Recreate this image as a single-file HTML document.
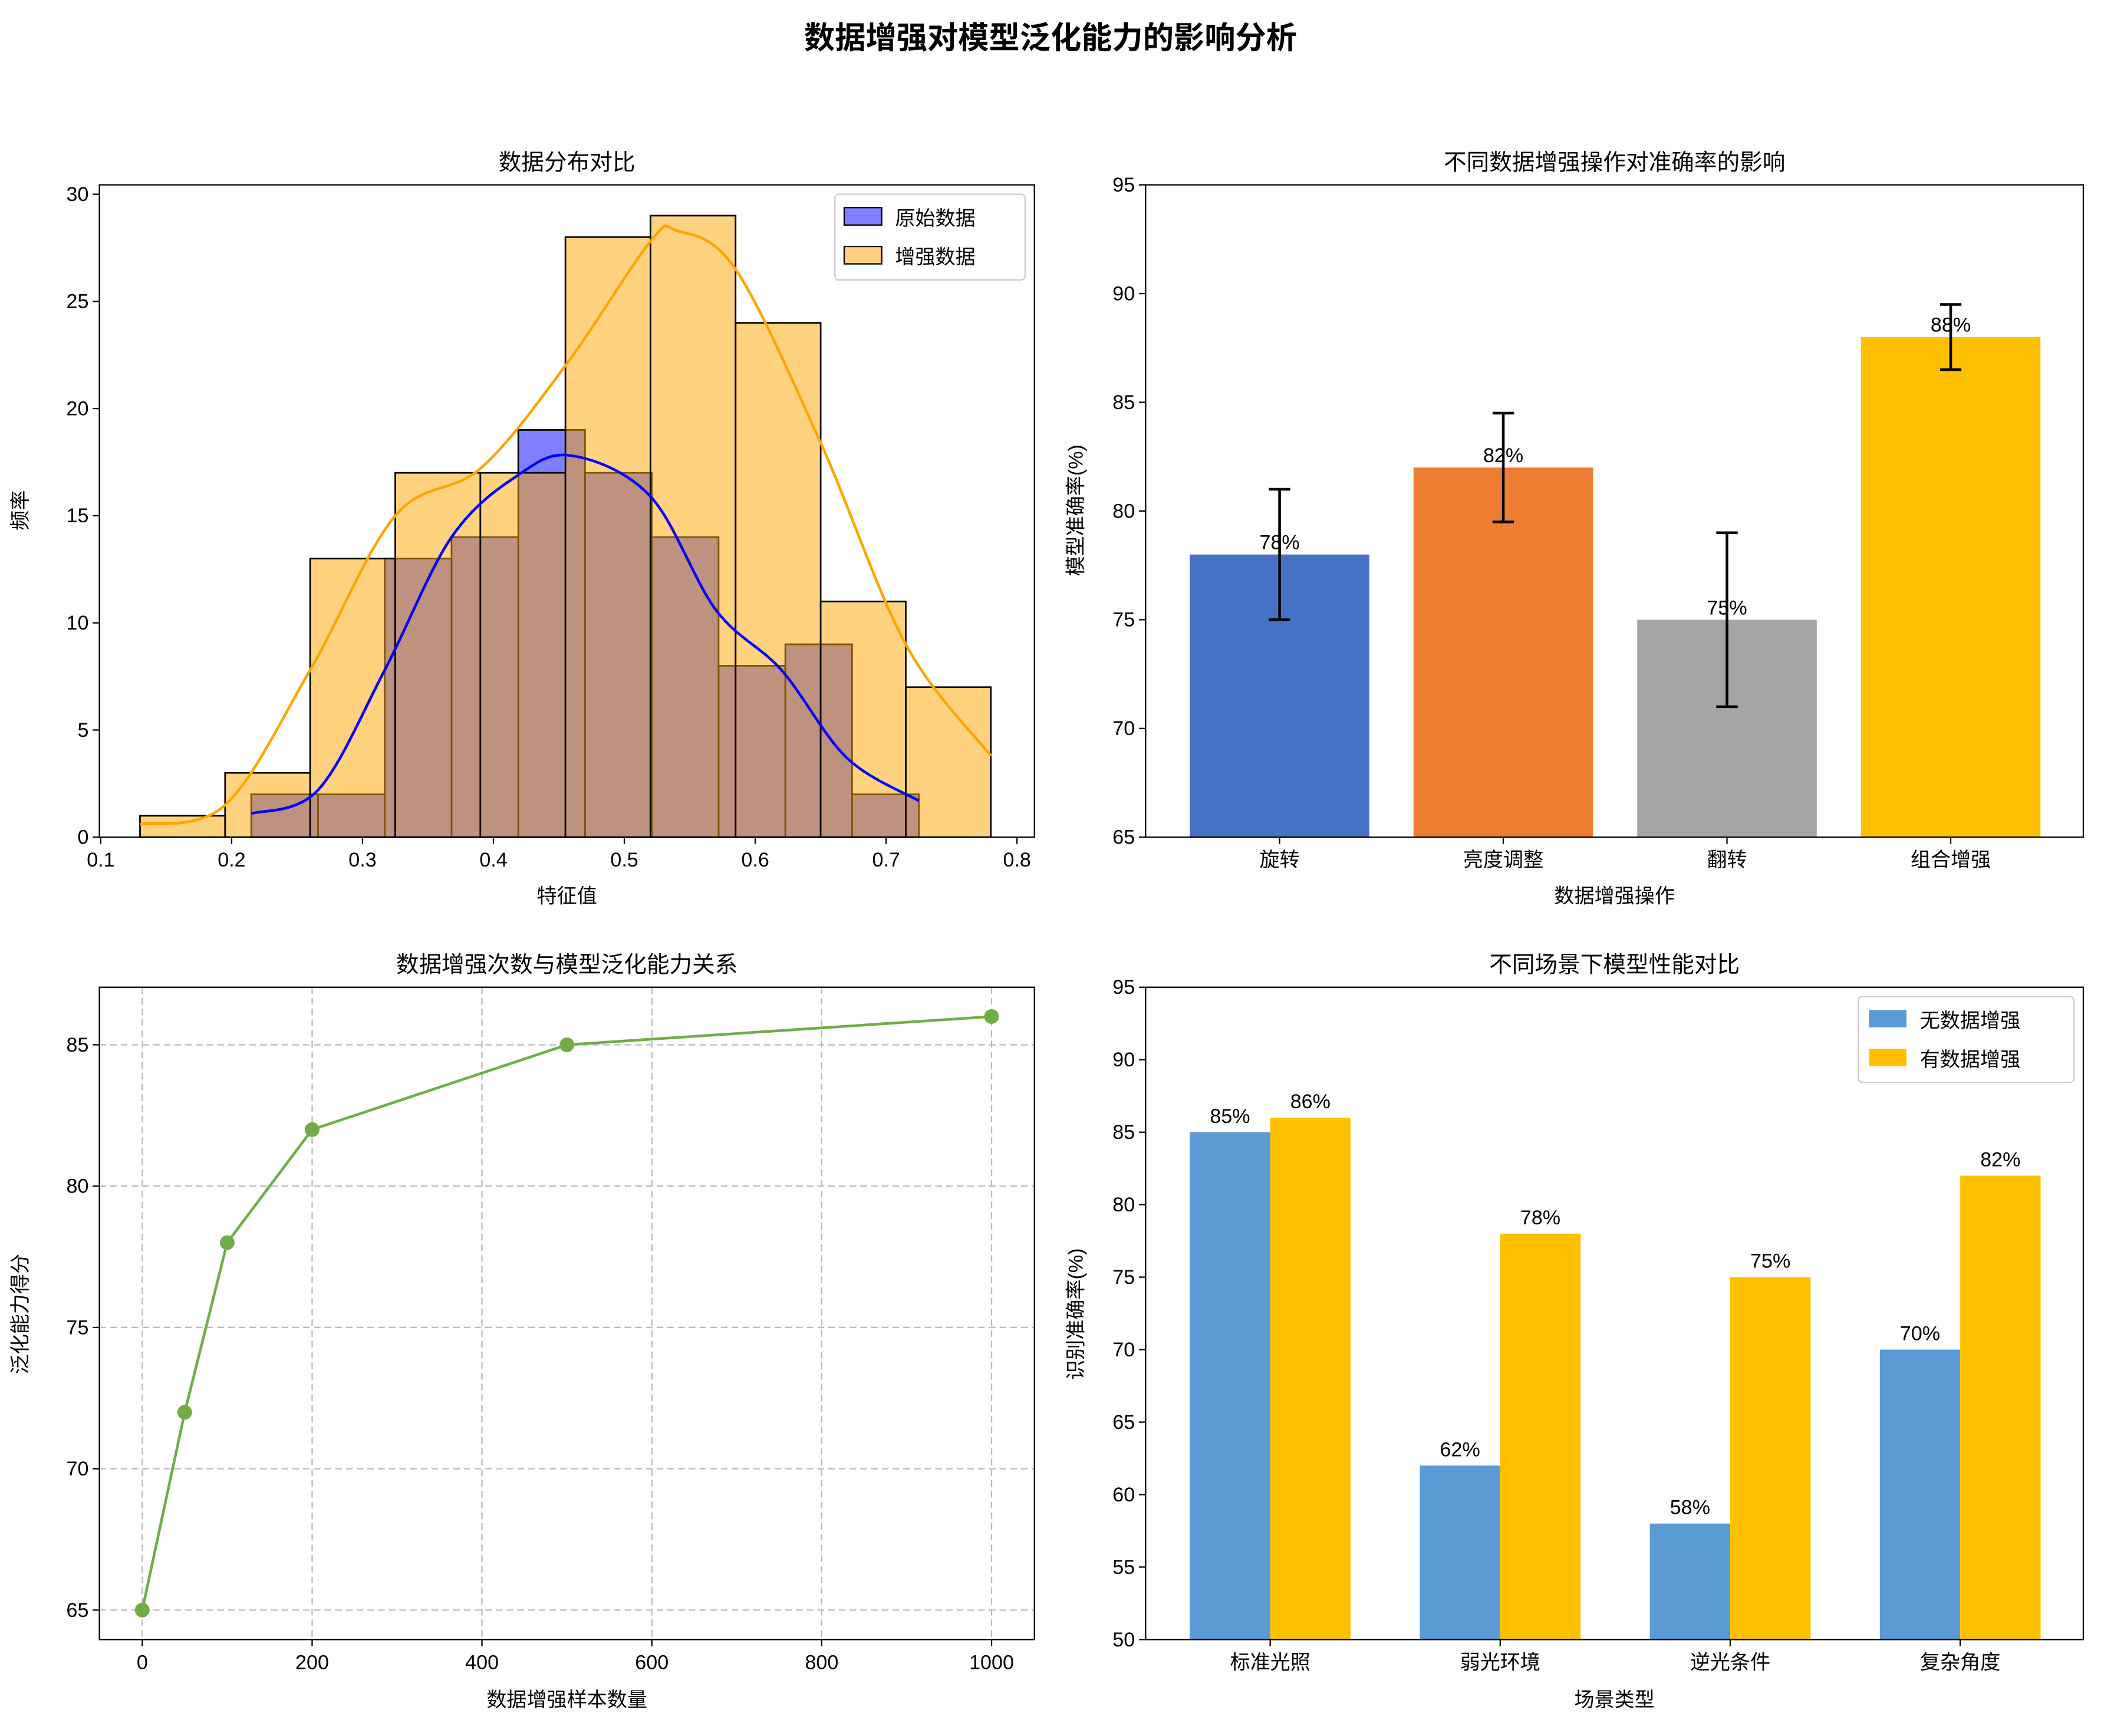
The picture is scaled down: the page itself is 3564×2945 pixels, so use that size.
<!DOCTYPE html>
<html><head><meta charset="utf-8">
<style>
html,body{margin:0;padding:0;background:#fff;}
svg{display:block;font-family:"Liberation Sans","Noto Sans CJK SC",sans-serif;}
</style></head>
<body>
<svg id="c" width="3564" height="2945" viewBox="0 0 1568 1296" xmlns="http://www.w3.org/2000/svg">
<text x="784" y="36" text-anchor="middle" font-size="23" font-weight="bold">数据增强对模型泛化能力的影响分析</text>
</svg>
<script>
// ---- data ----
const origEdgesStart = 0.215, origBinW = 0.051;
const origCounts = [2,2,13,14,19,17,14,8,9,2];
const augEdgesStart = 0.13, augBinW = 0.065;
const augCounts = [1,3,13,17,17,28,29,24,11,7];
const augKdeX = [0.13,0.195,0.26,0.325,0.39,0.455,0.52,0.54,0.585,0.65,0.715,0.78];
const augKdeY = [0.6,1.5,7.8,15,17.2,22,27.8,28.3,26.5,18.4,9,3.8];
const origKdeX = [0.215,0.266,0.317,0.368,0.419,0.46,0.52,0.57,0.62,0.67,0.725];
const origKdeY = [1.1,2.2,7.8,14,16.9,17.8,15.9,10.6,7.8,3.7,1.7];
const opNames = ["旋转","亮度调整","翻转","组合增强"];
const opAcc = [78,82,75,88];
const opErr = [3,2.5,4,1.5];
const opColors = ["#4472c4","#ed7d31","#a5a5a5","#ffc000"];
const sampleX = [0,50,100,200,500,1000];
const scoreY = [65,72,78,82,85,86];
const scenes = ["标准光照","弱光环境","逆光条件","复杂角度"];
const noAug = [85,62,58,70];
const withAug = [86,78,75,82];

const svg = document.getElementById('c');
const NS = "http://www.w3.org/2000/svg";
function el(tag, attrs, parent){const e=document.createElementNS(NS,tag);for(const k in attrs)e.setAttribute(k,attrs[k]);(parent||svg).appendChild(e);return e;}
function txt(x,y,s,size,anchor,parent,extra){const t=el('text',Object.assign({x:x,y:y,'font-size':size,'text-anchor':anchor||'middle'},extra||{}),parent);t.textContent=s;return t;}
function lin(d0,d1,p0,p1){return v=>p0+(v-d0)/(d1-d0)*(p1-p0);}

function axesFrame(x0,y0,x1,y1,name){
  const r=el('rect',{x:x0,y:y0,width:x1-x0,height:y1-y0,fill:'none',stroke:'#000','stroke-width':1});
  
  
}
function xTicks(vals,labels,sx,y1,name){
  const g=el('g',{});
  
  
  vals.forEach((v,i)=>{const x=sx(v);el('line',{x1:x,y1:y1,x2:x,y2:y1+5,stroke:'#000'},g);txt(x,y1+22,labels[i],15,'middle',g);});
}
function yTicks(vals,sy,x0,name){
  const g=el('g',{});
  
  
  vals.forEach(v=>{const y=sy(v);el('line',{x1:x0-5,y1:y,x2:x0,y2:y,stroke:'#000'},g);txt(x0-8,y+5,String(v),15,'end',g);});
}
function label(x,y,s,size,name,rot){
  const t=txt(x,y,s,size,'middle',null,rot?{transform:`rotate(-90 ${x} ${y})`}:{});
  
  
}

// ===== Panel 1: histogram =====
{
  const X0=74,X1=772,Y0=138,Y1=625;
  const sx=lin(0.1,0.8,75,759), sy=lin(0,30,625,145);
  const g=el('g',{});
  
  
  origCounts.forEach((c,i)=>{const a=origEdgesStart+i*origBinW;const r=el('rect',{x:sx(a),y:sy(c),width:sx(a+origBinW)-sx(a),height:sy(0)-sy(c),fill:'rgba(0,0,255,0.5)',stroke:'#000','stroke-width':1.2},g);
    
    });
  augCounts.forEach((c,i)=>{const a=augEdgesStart+i*augBinW;const r=el('rect',{x:sx(a),y:sy(c),width:sx(a+augBinW)-sx(a),height:sy(0)-sy(c),fill:'rgba(255,165,0,0.5)',stroke:'#000','stroke-width':1.2},g);
    
    });
  function curve(xs,ys,col,name){
    const pts=xs.map((x,i)=>[sx(x),sy(ys[i])]);
    let d=`M${pts[0][0]},${pts[0][1]}`;
    for(let i=0;i<pts.length-1;i++){const p0=pts[Math.max(0,i-1)],p1=pts[i],p2=pts[i+1],p3=pts[Math.min(pts.length-1,i+2)];
      d+=` C${p1[0]+(p2[0]-p0[0])/6},${p1[1]+(p2[1]-p0[1])/6} ${p2[0]-(p3[0]-p1[0])/6},${p2[1]-(p3[1]-p1[1])/6} ${p2[0]},${p2[1]}`;}
    const p=el('path',{d:d,fill:'none',stroke:col,'stroke-width':2});
    
    
  }
  curve(origKdeX,origKdeY,'#0000ff','original-kde-line');
  curve(augKdeX,augKdeY,'#ffa500','augmented-kde-line');
  axesFrame(X0,Y0,X1,Y1,'histogram-axes');
  const xv=[0.1,0.2,0.3,0.4,0.5,0.6,0.7,0.8];
  xTicks(xv,xv.map(v=>v.toFixed(1)),sx,Y1,'histogram-x-ticks');
  yTicks([0,5,10,15,20,25,30],sy,X0,'histogram-y-ticks');
  label(423,127,'数据分布对比',17,'histogram-title');
  label(423,674,'特征值',15,'histogram-x-title');
  label(20,381,'频率',15,'histogram-y-title',true);
  const lg=el('g',{});
  
  
  el('rect',{x:623,y:145,width:142,height:64,fill:'#fff',stroke:'#ccc',rx:3},lg);
  el('rect',{x:630,y:155,width:28,height:13,fill:'rgba(0,0,255,0.5)',stroke:'#000'},lg);
  txt(668,168,'原始数据',15,'start',lg);
  el('rect',{x:630,y:184,width:28,height:13,fill:'rgba(255,165,0,0.5)',stroke:'#000'},lg);
  txt(668,197,'增强数据',15,'start',lg);
}

// ===== Panel 2: operations bar chart =====
{
  const X0=855,X1=1555,Y0=138,Y1=625;
  const sy=lin(65,95,625,138);
  const bw=134;
  const cx=i=>955+i*167;
  opAcc.forEach((v,i)=>{
    const x=cx(i);
    const r=el('rect',{x:x-bw/2,y:sy(v),width:bw,height:sy(65)-sy(v),fill:opColors[i]});
    
    
    const t=txt(x,sy(v)-4,v+'%',15,'middle');
    
    
    const e=el('g',{stroke:'#000','stroke-width':2});
    
    
    el('line',{x1:x,x2:x,y1:sy(v-opErr[i]),y2:sy(v+opErr[i])},e);
    el('line',{x1:x-8,x2:x+8,y1:sy(v-opErr[i]),y2:sy(v-opErr[i])},e);
    el('line',{x1:x-8,x2:x+8,y1:sy(v+opErr[i]),y2:sy(v+opErr[i])},e);
  });
  axesFrame(X0,Y0,X1,Y1,'operations-axes');
  xTicks([0,1,2,3],opNames,cx,Y1,'operations-x-ticks');
  yTicks([65,70,75,80,85,90,95],sy,X0,'operations-y-ticks');
  label(1205,127,'不同数据增强操作对准确率的影响',17,'operations-title');
  label(1205,674,'数据增强操作',15,'operations-x-title');
  label(808,381,'模型准确率(%)',15,'operations-y-title',true);
}

// ===== Panel 3: line chart =====
{
  const X0=74,X1=772,Y0=737,Y1=1224;
  const sx=lin(0,1000,106,740), sy=lin(65,85,1202,780);
  const gr=el('g',{stroke:'#bbb','stroke-dasharray':'5,3','stroke-width':1});
  
  
  [0,200,400,600,800,1000].forEach(v=>el('line',{x1:sx(v),x2:sx(v),y1:Y0,y2:Y1},gr));
  [65,70,75,80,85].forEach(v=>el('line',{x1:X0,x2:X1,y1:sy(v),y2:sy(v)},gr));
  const p=el('polyline',{points:sampleX.map((x,i)=>sx(x)+','+sy(scoreY[i])).join(' '),fill:'none',stroke:'#70ad47','stroke-width':2});
  
  
  sampleX.forEach((x,i)=>{const c=el('circle',{cx:sx(x),cy:sy(scoreY[i]),r:5.5,fill:'#70ad47'});
    
    });
  axesFrame(X0,Y0,X1,Y1,'line-axes');
  const xv=[0,200,400,600,800,1000];
  xTicks(xv,xv.map(String),sx,Y1,'line-x-ticks');
  yTicks([65,70,75,80,85],sy,X0,'line-y-ticks');
  label(423,726,'数据增强次数与模型泛化能力关系',17,'line-title');
  label(423,1274,'数据增强样本数量',15,'line-x-title');
  label(20,981,'泛化能力得分',15,'line-y-title',true);
}

// ===== Panel 4: grouped bar chart =====
{
  const X0=855,X1=1555,Y0=737,Y1=1224;
  const sy=lin(50,95,1224,737);
  const bw=60;
  const cx=i=>948+i*171.7;
  scenes.forEach((s,i)=>{
    const c=cx(i);
    [[noAug[i],'#5b9bd5',c-bw,'no-aug'],[withAug[i],'#ffc000',c,'with-aug']].forEach(([v,col,x,nm])=>{
      const r=el('rect',{x:x,y:sy(v),width:bw,height:sy(50)-sy(v),fill:col});
      
      
      const t=txt(x+bw/2,sy(v)-7,v+'%',15,'middle');
      
      
    });
  });
  axesFrame(X0,Y0,X1,Y1,'scenes-axes');
  xTicks([0,1,2,3],scenes,cx,Y1,'scenes-x-ticks');
  yTicks([50,55,60,65,70,75,80,85,90,95],sy,X0,'scenes-y-ticks');
  label(1205,726,'不同场景下模型性能对比',17,'scenes-title');
  label(1205,1274,'场景类型',15,'scenes-x-title');
  label(808,981,'识别准确率(%)',15,'scenes-y-title',true);
  const lg=el('g',{});
  
  
  el('rect',{x:1387,y:744,width:161,height:64,fill:'#fff',stroke:'#ccc',rx:3},lg);
  el('rect',{x:1395,y:754,width:28,height:13,fill:'#5b9bd5'},lg);
  txt(1433,767,'无数据增强',15,'start',lg);
  el('rect',{x:1395,y:783,width:28,height:13,fill:'#ffc000'},lg);
  txt(1433,796,'有数据增强',15,'start',lg);
}
</script>
</body></html>
